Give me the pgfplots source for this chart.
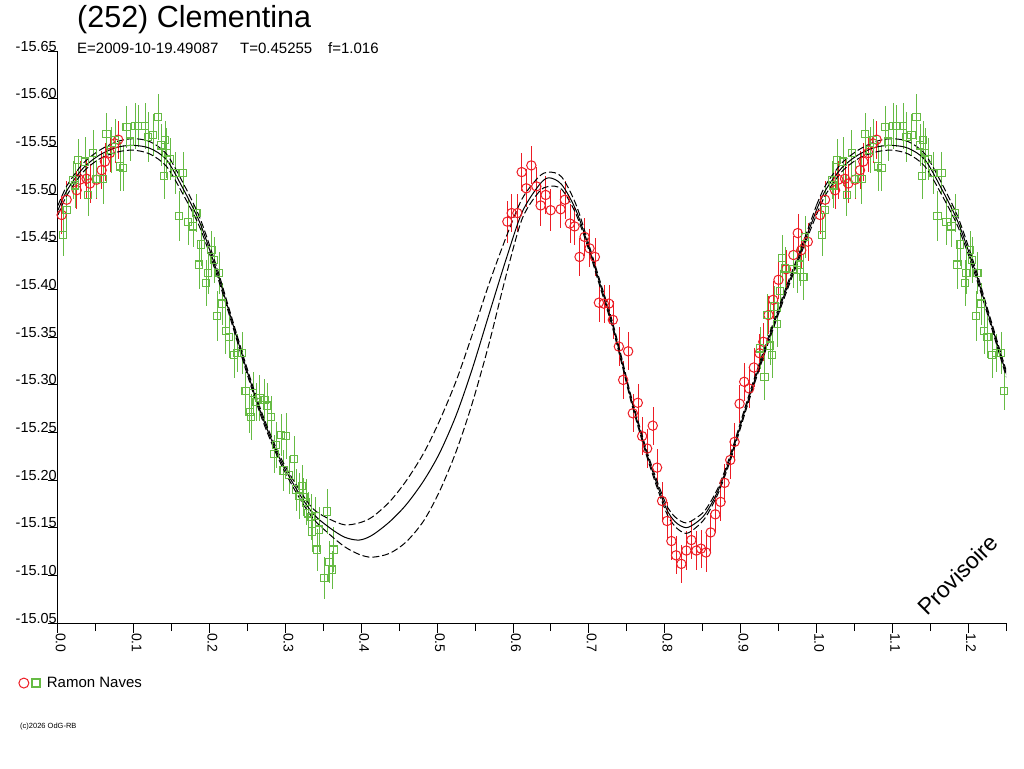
\documentclass[border=0pt]{standalone}
\usepackage{pgfplots}
\pgfplotsset{compat=1.18}
\usepackage{pgfplotstable}
\usepackage{fontspec}
\setmainfont{Liberation Sans}
\definecolor{gr}{RGB}{102,187,68}
\definecolor{rd}{RGB}{237,28,36}

\pgfplotstableread[row sep=\\]{
p m u l\\
0.000 -15.483 -15.488 -15.478\\
0.012 -15.504 -15.509 -15.499\\
0.033 -15.527 -15.532 -15.523\\
0.055 -15.541 -15.546 -15.537\\
0.078 -15.549 -15.555 -15.544\\
0.099 -15.551 -15.558 -15.546\\
0.121 -15.548 -15.555 -15.542\\
0.143 -15.536 -15.542 -15.529\\
0.164 -15.507 -15.513 -15.501\\
0.187 -15.470 -15.475 -15.465\\
0.209 -15.420 -15.424 -15.416\\
0.224 -15.381 -15.384 -15.378\\
0.249 -15.315 -15.318 -15.312\\
0.270 -15.265 -15.268 -15.262\\
0.292 -15.223 -15.226 -15.220\\
0.314 -15.191 -15.195 -15.187\\
0.336 -15.165 -15.170 -15.160\\
0.358 -15.150 -15.159 -15.143\\
0.378 -15.140 -15.153 -15.130\\
0.397 -15.137 -15.155 -15.122\\
0.414 -15.142 -15.161 -15.119\\
0.437 -15.156 -15.177 -15.123\\
0.459 -15.174 -15.199 -15.135\\
0.482 -15.199 -15.228 -15.157\\
0.503 -15.228 -15.262 -15.188\\
0.525 -15.268 -15.304 -15.230\\
0.546 -15.316 -15.352 -15.280\\
0.568 -15.373 -15.405 -15.342\\
0.591 -15.432 -15.455 -15.415\\
0.612 -15.481 -15.495 -15.474\\
0.634 -15.509 -15.518 -15.502\\
0.647 -15.517 -15.523 -15.508\\
0.664 -15.510 -15.518 -15.505\\
0.683 -15.483 -15.489 -15.479\\
0.700 -15.444 -15.447 -15.441\\
0.713 -15.410 -15.413 -15.407\\
0.730 -15.366 -15.369 -15.363\\
0.743 -15.326 -15.329 -15.323\\
0.757 -15.281 -15.284 -15.278\\
0.779 -15.221 -15.224 -15.218\\
0.801 -15.172 -15.176 -15.168\\
0.814 -15.156 -15.161 -15.151\\
0.828 -15.150 -15.155 -15.144\\
0.841 -15.155 -15.160 -15.150\\
0.854 -15.165 -15.169 -15.161\\
0.871 -15.190 -15.193 -15.187\\
0.888 -15.227 -15.230 -15.224\\
0.907 -15.276 -15.279 -15.273\\
0.920 -15.308 -15.311 -15.305\\
0.937 -15.348 -15.351 -15.345\\
0.959 -15.397 -15.400 -15.394\\
0.980 -15.441 -15.444 -15.438\\
1.000 -15.483 -15.488 -15.478\\
}\curve

\pgfplotstableread[row sep=\\]{
p g e\\
0.0070 -15.457 0.022\\
0.0114 -15.483 0.026\\
0.0202 -15.515 0.020\\
0.0224 -15.509 0.024\\
0.0268 -15.536 0.022\\
0.0355 -15.534 0.026\\
0.0399 -15.499 0.022\\
0.0465 -15.543 0.024\\
0.0509 -15.516 0.020\\
0.0596 -15.516 0.026\\
0.0640 -15.563 0.022\\
0.0706 -15.546 0.024\\
0.0750 -15.557 0.022\\
0.0816 -15.529 0.026\\
0.0860 -15.527 0.024\\
0.0904 -15.570 0.022\\
0.0947 -15.555 0.020\\
0.1013 -15.571 0.024\\
0.1057 -15.571 0.022\\
0.1145 -15.571 0.024\\
0.1189 -15.560 0.026\\
0.1254 -15.562 0.022\\
0.1320 -15.581 0.024\\
0.1364 -15.551 0.022\\
0.1408 -15.557 0.020\\
0.1430 -15.543 0.026\\
0.1474 -15.537 0.022\\
0.1395 -15.519 0.024\\
0.1539 -15.522 0.022\\
0.1596 -15.477 0.026\\
0.1649 -15.522 0.022\\
0.1715 -15.471 0.024\\
0.1781 -15.466 0.022\\
0.1825 -15.480 0.020\\
0.1860 -15.426 0.026\\
0.1890 -15.447 0.022\\
0.1956 -15.407 0.024\\
0.1978 -15.417 0.022\\
0.2022 -15.441 0.020\\
0.2053 -15.431 0.024\\
0.2123 -15.417 0.022\\
0.2101 -15.372 0.026\\
0.2167 -15.385 0.022\\
0.2211 -15.356 0.024\\
0.2254 -15.350 0.022\\
0.2320 -15.331 0.024\\
0.2364 -15.333 0.020\\
0.2430 -15.333 0.022\\
0.2474 -15.293 0.020\\
0.2526 -15.271 0.022\\
0.2548 -15.266 0.024\\
0.2570 -15.291 0.022\\
0.2614 -15.282 0.020\\
0.2658 -15.286 0.024\\
0.2724 -15.284 0.022\\
0.2754 -15.278 0.024\\
0.2811 -15.266 0.022\\
0.2855 -15.227 0.020\\
0.2877 -15.237 0.024\\
0.2943 -15.247 0.022\\
0.3009 -15.246 0.024\\
0.2974 -15.210 0.022\\
0.3044 -15.205 0.020\\
0.3110 -15.222 0.024\\
0.3140 -15.190 0.022\\
0.3175 -15.183 0.024\\
0.3219 -15.194 0.022\\
0.3237 -15.182 0.020\\
0.3272 -15.177 0.024\\
0.3294 -15.165 0.022\\
0.3338 -15.161 0.024\\
0.3351 -15.146 0.022\\
0.3395 -15.162 0.020\\
0.3439 -15.148 0.024\\
0.3412 -15.127 0.022\\
0.3548 -15.167 0.024\\
0.3579 -15.114 0.022\\
0.3632 -15.127 0.024\\
0.3614 -15.106 0.020\\
0.3513 -15.097 0.022\\
0.9259 -15.338 0.022\\
0.9316 -15.308 0.024\\
0.9346 -15.373 0.022\\
0.9390 -15.341 0.020\\
0.9412 -15.331 0.024\\
0.9447 -15.382 0.022\\
0.9478 -15.364 0.024\\
0.9522 -15.398 0.022\\
0.9544 -15.433 0.024\\
0.9588 -15.422 0.022\\
0.9697 -15.421 0.020\\
0.9741 -15.420 0.024\\
0.9785 -15.426 0.022\\
0.9829 -15.413 0.024\\
0.9851 -15.455 0.022\\
}\green

\pgfplotstableread[row sep=\\]{
p r e\\
0.5925 -15.471 0.022\\
0.5982 -15.480 0.020\\
0.6057 -15.480 0.020\\
0.6114 -15.523 0.020\\
0.6175 -15.506 0.020\\
0.6241 -15.530 0.020\\
0.6307 -15.508 0.020\\
0.6364 -15.488 0.022\\
0.6430 -15.499 0.020\\
0.6496 -15.483 0.022\\
0.6627 -15.484 0.020\\
0.6684 -15.494 0.020\\
0.6750 -15.469 0.020\\
0.6811 -15.466 0.020\\
0.6877 -15.434 0.020\\
0.6943 -15.455 0.020\\
0.7009 -15.443 0.020\\
0.7079 -15.434 0.020\\
0.7132 -15.386 0.020\\
0.7197 -15.385 0.020\\
0.7263 -15.385 0.020\\
0.7316 -15.368 0.020\\
0.7395 -15.340 0.020\\
0.7452 -15.305 0.020\\
0.7518 -15.335 0.020\\
0.7579 -15.270 0.020\\
0.7645 -15.281 0.020\\
0.7702 -15.246 0.020\\
0.7768 -15.233 0.020\\
0.7842 -15.257 0.020\\
0.7899 -15.213 0.020\\
0.7965 -15.178 0.020\\
0.8031 -15.157 0.020\\
0.8088 -15.136 0.020\\
0.8149 -15.121 0.020\\
0.8219 -15.112 0.020\\
0.8285 -15.126 0.020\\
0.8351 -15.137 0.020\\
0.8417 -15.126 0.020\\
0.8478 -15.128 0.020\\
0.8544 -15.124 0.020\\
0.8605 -15.145 0.020\\
0.8667 -15.164 0.020\\
0.8737 -15.177 0.020\\
0.8789 -15.197 0.020\\
0.8864 -15.221 0.020\\
0.8921 -15.240 0.020\\
0.8987 -15.280 0.020\\
0.9048 -15.303 0.020\\
0.9114 -15.296 0.020\\
0.9175 -15.318 0.020\\
0.9250 -15.333 0.020\\
0.9300 -15.345 0.020\\
0.9368 -15.373 0.020\\
0.9430 -15.389 0.020\\
0.9500 -15.410 0.020\\
0.9600 -15.421 0.020\\
0.9697 -15.436 0.020\\
0.9754 -15.459 0.020\\
0.9800 -15.441 0.020\\
0.9886 -15.450 0.020\\
1.0048 -15.478 0.020\\
1.0114 -15.494 0.020\\
1.0246 -15.504 0.020\\
1.0289 -15.515 0.020\\
1.0377 -15.516 0.020\\
1.0421 -15.511 0.020\\
1.0509 -15.515 0.020\\
1.0575 -15.525 0.020\\
1.0618 -15.534 0.020\\
1.0684 -15.543 0.020\\
1.0750 -15.553 0.020\\
1.0794 -15.557 0.020\\
}\red

\begin{document}
\begin{tikzpicture}
\useasboundingbox (0,0) rectangle (1024pt,768pt);
\begin{axis}[
  at={(58pt,145pt)}, anchor=south west,
  scale only axis, width=948pt, height=572pt,
  xmin=0, xmax=1.25, ymin=-15.65, ymax=-15.05, y dir=reverse,
  axis x line*=bottom, axis y line*=left,
  axis line style={black, line width=1pt},
  tick align=outside,
  tick style={black, line width=1pt},
  major tick length=10pt, minor tick length=8pt,
  xtick={0,0.1,0.2,0.3,0.4,0.5,0.6,0.7,0.8,0.9,1.0,1.1,1.2},
  xticklabels={0.0,0.1,0.2,0.3,0.4,0.5,0.6,0.7,0.8,0.9,1.0,1.1,1.2},
  minor xtick={0.05,0.15,0.25,0.35,0.45,0.55,0.65,0.75,0.85,0.95,1.05,1.15,1.25},
  ytick={-15.65,-15.60,-15.55,-15.50,-15.45,-15.40,-15.35,-15.30,-15.25,-15.20,-15.15,-15.10,-15.05},
  yticklabels={-15.65,-15.60,-15.55,-15.50,-15.45,-15.40,-15.35,-15.30,-15.25,-15.20,-15.15,-15.10,-15.05},
  xticklabel style={rotate=-90, anchor=base west, inner sep=0pt, yshift=-2pt, font=\fontsize{14}{14}\selectfont},
  yticklabel style={anchor=base east, inner sep=0pt, xshift=9pt, font=\fontsize{14.5}{14.5}\selectfont},
  legend style={at={(axis description cs:-0.042,-0.105)}, anchor=west, draw=none, fill=none,
     font=\fontsize{15}{15}\selectfont, inner sep=0pt},
  legend cell align=left,
]
\addlegendimage{legend image code/.code={
   \path[draw=none] (-5.5pt,0pt) -- (21pt,0pt);
   \draw[rd, line width=1pt] (0pt,0pt) circle (5pt);
   \draw[gr, line width=1.4pt] (8pt,-4pt) rectangle (16pt,4pt);}}
\addlegendentry{Ramon Naves}

\addplot[forget plot, only marks, rd, line width=1pt, mark=o, mark size=4.7pt,
  restrict x to domain=0:1.25,
  error bars/.cd, y dir=both, y explicit, error mark=none]
  table[x=p, y=r, y error=e] {\red};
\addplot[forget plot, only marks, rd, line width=1pt, mark=o, mark size=4.7pt,
  restrict x to domain=0:1.25,
  error bars/.cd, y dir=both, y explicit, error mark=none]
  table[x expr=\thisrow{p}-1, y=r, y error=e] {\red};

\addplot[forget plot, only marks, gr, line width=1.1pt, mark=square, mark size=3.6pt,
  restrict x to domain=0:1.25,
  error bars/.cd, y dir=both, y explicit, error mark=none]
  table[x=p, y=g, y error=e] {\green};
\addplot[forget plot, only marks, gr, line width=1.1pt, mark=square, mark size=3.6pt,
  restrict x to domain=0:1.25,
  error bars/.cd, y dir=both, y explicit, error mark=none]
  table[x expr=\thisrow{p}+1, y=g, y error=e] {\green};

\addplot[forget plot, black, line width=1pt, smooth, no marks] table[x=p, y=m] {\curve};
\addplot[forget plot, black, line width=1pt, smooth, no marks] table[x expr=\thisrow{p}+1, y=m] {\curve};
\addplot[forget plot, black, line width=1pt, smooth, no marks, dash pattern=on 7pt off 3pt] table[x=p, y=u] {\curve};
\addplot[forget plot, black, line width=1pt, smooth, no marks, dash pattern=on 7pt off 3pt] table[x expr=\thisrow{p}+1, y=u] {\curve};
\addplot[forget plot, black, line width=1pt, smooth, no marks, dash pattern=on 7pt off 3pt] table[x=p, y=l] {\curve};
\addplot[forget plot, black, line width=1pt, smooth, no marks, dash pattern=on 7pt off 3pt] table[x expr=\thisrow{p}+1, y=l] {\curve};
\end{axis}

\node[anchor=base west, inner sep=0pt] at (77pt,740pt) {\fontsize{30.5}{30.5}\selectfont (252) Clementina};
\node[anchor=base west, inner sep=0pt] at (77pt,714pt) {\fontsize{15}{15}\selectfont E=2009-10-19.49087};
\node[anchor=base west, inner sep=0pt] at (240pt,714pt) {\fontsize{15}{15}\selectfont T=0.45255};
\node[anchor=base west, inner sep=0pt] at (328pt,714pt) {\fontsize{15}{15}\selectfont f=1.016};
\node[rotate=45, inner sep=0pt] at (958pt,193pt) {\fontsize{23}{23}\selectfont Provisoire};
\node[anchor=base west, inner sep=0pt] at (20pt,40pt) {\fontsize{7.5}{7.5}\selectfont (c)2026 OdG-RB};
\end{tikzpicture}
\end{document}
